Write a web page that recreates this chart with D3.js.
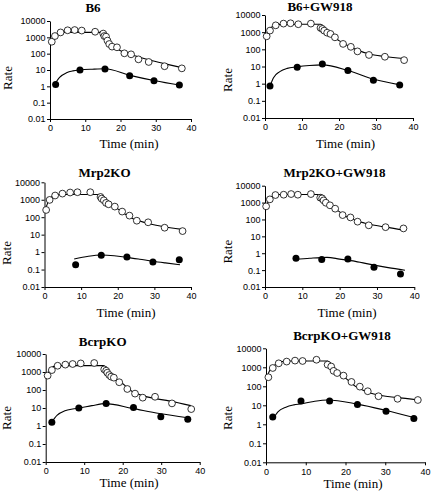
<!DOCTYPE html>
<html><head><meta charset="utf-8">
<script src="https://cdn.jsdelivr.net/npm/d3@7"></script>
<style>
html,body{margin:0;padding:0;background:#fff;}
svg{display:block;}
</style></head>
<body>
<script>
// ---------- DATA ----------
const panelTitles = ["B6", "B6+GW918", "Mrp2KO", "Mrp2KO+GW918", "BcrpKO", "BcrpKO+GW918"];
const xTicks = [0, 10, 20, 30, 40];
const yTicks = [0.01, 0.1, 1, 10, 100, 1000, 10000];
const yTickLabels = ["0.01", "0.1", "1", "10", "100", "1000", "10000"];
const xTitle = "Time (min)";
const yTitle = "Rate";

// open circles (observed)
const openT_B6 = [0.5, 1.4, 3, 5, 7, 9, 12.8, 15.1, 15.4, 15.9, 16.3, 16.8, 17.6, 19, 21.1, 23, 25.1, 28, 32.5, 37.4];
const openV_B6 = [540, 1200, 2000, 2700, 2800, 2600, 2200, 1700, 1200, 1100, 630, 390, 270, 245, 105, 91, 45, 31, 17, 12.6];
const openT_B6GW = [0.45, 1.35, 2.9, 5, 6.9, 9, 12.4, 15, 15.5, 16, 16.8, 17.7, 18.9, 21.1, 23.2, 25, 28.1, 32.4, 37.6];
const openV_B6GW = [575, 1240, 2500, 3150, 3300, 2900, 3150, 1770, 1540, 1230, 930, 790, 500, 207, 140, 76, 47, 37, 23.5];
const openT_Mrp = [0.45, 1.4, 2.9, 4.9, 7, 9, 12.5, 15.3, 15.6, 16.2, 16.8, 17.5, 19.2, 21.2, 23.2, 25.2, 28.3, 32.8, 37.7];
const openV_Mrp = [260, 980, 1750, 2250, 2600, 2700, 2700, 1450, 1160, 930, 660, 550, 405, 210, 123, 63, 51, 25, 16];
const openT_MrpGW = [0.3, 1.3, 2.8, 5, 7, 8.8, 12.3, 14.8, 15.3, 15.7, 16.3, 17.4, 18.8, 20.8, 22.9, 24.8, 27.8, 32.3, 37.1];
const openV_MrpGW = [600, 1550, 2800, 2930, 3200, 2930, 3200, 1950, 1780, 1350, 980, 690, 435, 182, 132, 74, 45, 35, 29.5];
const openT_Bcrp = [0.5, 1.6, 3.1, 5.1, 7, 9.1, 12.6, 15.2, 15.7, 16, 16.5, 17, 17.7, 19.1, 21.2, 23.2, 25.2, 28.4, 32.8, 37.8];
const openV_Bcrp = [630, 1280, 2230, 2570, 2780, 3000, 3160, 1400, 1180, 910, 680, 550, 485, 270, 114, 63, 37.5, 42, 18, 8.7];
const openT_BcrpGW = [0.6, 1.7, 3.2, 5.2, 7.3, 9.2, 12.7, 15.5, 16.4, 17, 17.9, 19.5, 21.5, 23.6, 25.6, 28.3, 33.1, 38.2];
const openV_BcrpGW = [300, 920, 1620, 2000, 2250, 2150, 2500, 1380, 1100, 650, 500, 365, 170, 96, 55, 30, 22, 19];

// filled circles (observed)
const fillT_B6 = [1.6, 8.5, 15.6, 22.6, 29.5, 36.7];
const fillV_B6 = [1.3, 10, 11.5, 4.5, 2.2, 1.2];
const fillT_B6GW = [1.35, 8.7, 15.5, 22.4, 29.3, 36.4];
const fillV_B6GW = [0.72, 9.1, 14.1, 5.8, 1.6, 0.83];
const fillT_Mrp = [8.5, 15.5, 22.5, 29.6, 36.8];
const fillV_Mrp = [0.19, 0.65, 0.52, 0.27, 0.36];
const fillT_MrpGW = [8.3, 15.2, 22.2, 29.2, 36.3];
const fillV_MrpGW = [0.5, 0.43, 0.46, 0.15, 0.059];
const fillT_Bcrp = [1.6, 8.6, 15.7, 22.8, 29.9, 36.9];
const fillV_Bcrp = [1.6, 10, 18, 10.5, 3.3, 2.35];
const fillT_BcrpGW = [1.7, 8.8, 16, 23, 30.2, 37.2];
const fillV_BcrpGW = [2.4, 17, 17, 11, 4.8, 2.0];

// fitted curves
const fitOpenT_B6 = [0.3, 1, 2, 3, 4, 15, 15.5, 16, 17, 18, 19, 20, 22, 24, 28, 33, 37.4];
const fitOpenV_B6 = [650, 1100, 1600, 1900, 2000, 2000, 1750, 1150, 480, 280, 190, 150, 100, 75, 42, 23, 14];
const fitOpenT_B6GW = [0.3, 1, 2, 3, 4, 15, 15.5, 16, 17, 18, 19, 20, 22, 25, 28, 32.5, 37.5];
const fitOpenV_B6GW = [650, 1300, 2100, 2600, 2850, 2900, 2500, 1900, 1150, 700, 450, 320, 180, 90, 55, 38, 29];
const fitOpenT_Mrp = [0.2, 1.1, 2, 3, 4, 15, 16, 17, 18, 19, 20, 22, 24, 26, 28, 32, 37.5];
const fitOpenV_Mrp = [260, 850, 1500, 1900, 2000, 2000, 1300, 750, 520, 400, 300, 150, 85, 60, 45, 30, 20];
const fitOpenT_MrpGW = [0.3, 1.3, 2, 3, 4, 15, 15.8, 16.5, 17.5, 18.8, 20, 21.1, 23, 25, 28, 32.3, 37.5];
const fitOpenV_MrpGW = [600, 1700, 2400, 2850, 3000, 3000, 1900, 950, 620, 420, 280, 177, 115, 78, 52, 35, 23];
const fitOpenT_Bcrp = [0.3, 1.3, 2, 3, 15, 15.5, 16, 16.9, 18, 19.5, 21, 22.5, 24, 26, 29, 32, 37.7];
const fitOpenV_Bcrp = [680, 1470, 2000, 2250, 2250, 1900, 1300, 680, 420, 270, 150, 81, 60, 43, 32, 25, 13.5];
const fitOpenT_BcrpGW = [0.25, 1.25, 3, 5, 15.5, 16.2, 17, 17.6, 18.8, 20.1, 21.3, 22.6, 24, 26, 29, 32.7, 38.4];
const fitOpenV_BcrpGW = [320, 890, 1600, 2150, 2150, 1700, 1050, 720, 420, 260, 160, 96, 68, 46, 33, 26, 19];

const fitFillT_B6 = [1.4, 2.8, 4.7, 6.5, 8.5, 12, 15.6, 22.7, 29.8, 36.7];
const fitFillV_B6 = [1.45, 3.7, 6.8, 8.8, 10, 11.2, 12, 4.7, 2.2, 1.2];
const fitFillT_B6GW = [1.4, 2.3, 4, 6, 8.5, 12, 15.5, 22.5, 29.5, 36.5];
const fitFillV_B6GW = [0.75, 2.2, 5, 7.8, 9.5, 11.5, 12.5, 5.8, 1.8, 0.85];
const fitFillT_Mrp = [8.1, 12, 15.5, 19, 22.5, 26, 29.5, 33, 37];
const fitFillV_Mrp = [0.40, 0.58, 0.68, 0.62, 0.50, 0.39, 0.30, 0.24, 0.19];
const fitFillT_MrpGW = [8.1, 12, 16.6, 20, 24.2, 29.6, 33, 37.5];
const fitFillV_MrpGW = [0.42, 0.5, 0.57, 0.45, 0.33, 0.19, 0.14, 0.098];
const fitFillT_Bcrp = [1.5, 3, 5, 7, 8.6, 12, 15.5, 22.5, 29.5, 36.9];
const fitFillV_Bcrp = [1.6, 4, 7, 8.8, 9.8, 13.5, 17.5, 9.5, 5, 2.9];
const fitFillT_BcrpGW = [1.7, 3, 5, 7, 8.8, 12, 15.5, 23, 30, 37.2];
const fitFillV_BcrpGW = [1.8, 4.5, 8, 10.5, 12, 16, 19, 11.5, 5.5, 2.3];

const openT = [openT_B6, openT_B6GW, openT_Mrp, openT_MrpGW, openT_Bcrp, openT_BcrpGW];
const openV = [openV_B6, openV_B6GW, openV_Mrp, openV_MrpGW, openV_Bcrp, openV_BcrpGW];
const fillT = [fillT_B6, fillT_B6GW, fillT_Mrp, fillT_MrpGW, fillT_Bcrp, fillT_BcrpGW];
const fillV = [fillV_B6, fillV_B6GW, fillV_Mrp, fillV_MrpGW, fillV_Bcrp, fillV_BcrpGW];
const fitOT = [fitOpenT_B6, fitOpenT_B6GW, fitOpenT_Mrp, fitOpenT_MrpGW, fitOpenT_Bcrp, fitOpenT_BcrpGW];
const fitOV = [fitOpenV_B6, fitOpenV_B6GW, fitOpenV_Mrp, fitOpenV_MrpGW, fitOpenV_Bcrp, fitOpenV_BcrpGW];
const fitFT = [fitFillT_B6, fitFillT_B6GW, fitFillT_Mrp, fitFillT_MrpGW, fitFillT_Bcrp, fitFillT_BcrpGW];
const fitFV = [fitFillV_B6, fitFillV_B6GW, fitFillV_Mrp, fitFillV_MrpGW, fitFillV_Bcrp, fitFillV_BcrpGW];

// ---------- LAYOUT ----------
const layout = [
  {x0: 50,   x1: 191,   yT: 21,    yB: 119,   tx: 93,    ty: 12,    rx: 12,  ry: 78,    mx: 129,   my: 148},
  {x0: 265,  x1: 413,   yT: 15,    yB: 118,   tx: 320,   ty: 11,    rx: 232, ry: 80,    mx: 345.5, my: 148},
  {x0: 44.5, x1: 191,   yT: 182.3, yB: 287,   tx: 104.5, ty: 177,   rx: 11,  ry: 253,   mx: 126,   my: 316.7},
  {x0: 265,  x1: 414.3, yT: 185.7, yB: 287,   tx: 334.5, ty: 177.3, rx: 232, ry: 251.7, mx: 347,   my: 316.7},
  {x0: 45.7, x1: 199.7, yT: 354,   yB: 462,   tx: 102.7, ty: 346,   rx: 11,  ry: 418,   mx: 129,   my: 487},
  {x0: 266,  x1: 425,   yT: 348.3, yB: 462.3, tx: 342,   ty: 340,   rx: 232, ry: 418,   mx: 353,   my: 487.5}
];

const W = 432, H = 496;
const svg = d3.select("body").append("svg").attr("width", W).attr("height", H);
const serif = "'Liberation Serif','Times New Roman',Times,serif";
const sans = "'Liberation Sans',Arial,Helvetica,sans-serif";

panelTitles.forEach((title, i) => {
  const L = layout[i];
  const x = d3.scaleLinear().domain([0, 40]).range([L.x0, L.x1]);
  const y = d3.scaleLog().domain([0.01, 10000]).range([L.yB, L.yT]);
  const g = svg.append("g");

  const xa = g.append("g").attr("transform", `translate(0,${L.yB})`)
    .call(d3.axisBottom(x).tickValues(xTicks).tickFormat(d3.format("d")).tickSizeInner(3).tickSizeOuter(0).tickPadding(3));
  const ya = g.append("g").attr("transform", `translate(${L.x0},0)`)
    .call(d3.axisLeft(y).tickValues(yTicks).tickFormat((d, k) => yTickLabels[k]).tickSizeInner(3).tickSizeOuter(0).tickPadding(1.5));
  [xa, ya].forEach(a => {
    a.selectAll("path,line").attr("stroke", "#000").attr("stroke-width", 1);
    a.selectAll("text").attr("fill", "#000").style("font-family", sans).style("font-size", "9px");
  });

  const line = d3.line().x(d => x(d[0])).y(d => y(d[1])).curve(d3.curveMonotoneX);
  const fo = fitOT[i].map((t, k) => [t, fitOV[i][k]]);
  const ff = fitFT[i].map((t, k) => [t, fitFV[i][k]]);
  g.append("path").attr("d", line(fo)).attr("fill", "none").attr("stroke", "#000").attr("stroke-width", 1.1);
  g.append("path").attr("d", line(ff)).attr("fill", "none").attr("stroke", "#000").attr("stroke-width", 1.1);

  g.selectAll(".o").data(openT[i].map((t, k) => [t, openV[i][k]])).enter().append("circle")
    .attr("cx", d => x(d[0])).attr("cy", d => y(d[1])).attr("r", 3.4)
    .attr("fill", "#fff").attr("stroke", "#000").attr("stroke-width", 0.8);
  g.selectAll(".f").data(fillT[i].map((t, k) => [t, fillV[i][k]])).enter().append("circle")
    .attr("cx", d => x(d[0])).attr("cy", d => y(d[1])).attr("r", 3.5)
    .attr("fill", "#000");

  g.append("text").attr("x", L.tx).attr("y", L.ty).attr("text-anchor", "middle")
    .style("font-family", serif).style("font-weight", "bold").style("font-size", "13px").text(title);
  g.append("text").attr("transform", `translate(${L.rx},${L.ry}) rotate(-90)`).attr("text-anchor", "middle")
    .style("font-family", serif).style("font-size", "13px").text(yTitle);
  g.append("text").attr("x", L.mx).attr("y", L.my).attr("text-anchor", "middle")
    .style("font-family", serif).style("font-size", "13px").text(xTitle);
});
</script>
</body></html>
